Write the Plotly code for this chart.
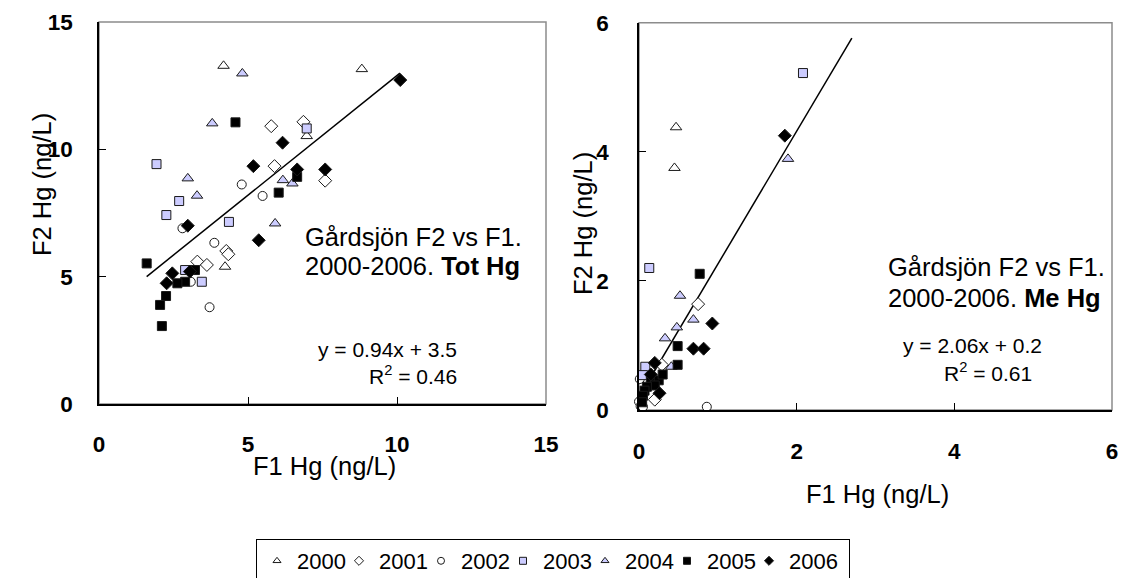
import plotly.graph_objects as go

W, H = 1122, 578

YEARS = ["2000", "2001", "2002", "2003", "2004", "2005", "2006"]
SYMBOLS = ["triangle-up", "diamond", "circle", "square", "triangle-up", "square", "diamond"]
FILLS = ["white", "white", "white", "#CCCCFF", "#CCCCFF", "black", "black"]
SIZES = [10, 10, 9, 9, 10, 9, 10]

# ---- Tot Hg (left panel), F1 (x) vs F2 (y) ----
TOT_2000_X = [4.18, 8.82, 6.97, 4.23]
TOT_2000_Y = [13.28, 13.15, 10.52, 5.39]
TOT_2001_X = [5.78, 6.86, 5.89, 7.59, 4.27, 4.34, 3.30, 3.62]
TOT_2001_Y = [10.91, 11.08, 9.34, 8.77, 6.01, 5.88, 5.59, 5.46]
TOT_2002_X = [4.79, 5.49, 2.80, 3.87, 3.08, 3.71]
TOT_2002_Y = [8.62, 8.17, 6.90, 6.33, 4.80, 3.80]
TOT_2003_X = [6.97, 1.93, 2.69, 2.26, 4.36, 2.89, 3.45]
TOT_2003_Y = [10.82, 9.42, 7.97, 7.42, 7.15, 5.26, 4.80]
TOT_2004_X = [4.81, 3.80, 2.98, 6.17, 6.49, 3.29, 5.91]
TOT_2004_Y = [12.98, 11.02, 8.86, 8.79, 8.66, 8.18, 7.09]
TOT_2005_X = [4.58, 6.65, 6.03, 1.60, 3.22, 2.89, 2.63, 2.25, 2.05, 2.11]
TOT_2005_Y = [11.06, 8.92, 8.30, 5.52, 5.26, 4.80, 4.74, 4.24, 3.89, 3.06]
TOT_2006_X = [10.11, 6.16, 5.18, 6.65, 7.59, 2.98, 5.36, 2.46, 2.27, 3.05]
TOT_2006_Y = [12.72, 10.26, 9.34, 9.21, 9.21, 7.00, 6.43, 5.13, 4.74, 5.20]

# ---- Me Hg (right panel) ----
ME_2000_X = [0.47, 0.45]
ME_2000_Y = [4.38, 3.75]
ME_2001_X = [0.75, 0.29, 0.20, 0.12]
ME_2001_Y = [1.64, 0.70, 0.16, 0.45]
ME_2002_X = [0.01, 0.00, 0.02, 0.05, 0.86]
ME_2002_Y = [0.48, 0.13, 0.06, 0.05, 0.05]
ME_2003_X = [2.08, 0.13, 0.08, 0.05]
ME_2003_Y = [5.22, 2.20, 0.67, 0.54]
ME_2004_X = [1.89, 0.52, 0.69, 0.48, 0.33, 0.41]
ME_2004_Y = [3.89, 1.77, 1.40, 1.28, 1.11, 0.67]
ME_2005_X = [0.77, 0.49, 0.49, 0.15, 0.25, 0.30, 0.20, 0.10, 0.07, 0.05, 0.04]
ME_2005_Y = [2.11, 0.99, 0.70, 0.46, 0.46, 0.55, 0.38, 0.36, 0.30, 0.22, 0.12]
ME_2006_X = [1.85, 0.93, 0.69, 0.82, 0.20, 0.26, 0.15]
ME_2006_Y = [4.25, 1.34, 0.95, 0.95, 0.73, 0.26, 0.55]

TOT_FIT_SLOPE, TOT_FIT_INTERCEPT = 0.94, 3.5
TOT_FIT_XRANGE = [1.6, 10.1]
ME_FIT_SLOPE, ME_FIT_INTERCEPT = 2.06, 0.2
ME_FIT_XRANGE = [0.0, 2.7]

TOT_X = [TOT_2000_X, TOT_2001_X, TOT_2002_X, TOT_2003_X, TOT_2004_X, TOT_2005_X, TOT_2006_X]
TOT_Y = [TOT_2000_Y, TOT_2001_Y, TOT_2002_Y, TOT_2003_Y, TOT_2004_Y, TOT_2005_Y, TOT_2006_Y]
ME_X = [ME_2000_X, ME_2001_X, ME_2002_X, ME_2003_X, ME_2004_X, ME_2005_X, ME_2006_X]
ME_Y = [ME_2000_Y, ME_2001_Y, ME_2002_Y, ME_2003_Y, ME_2004_Y, ME_2005_Y, ME_2006_Y]

LINE_COL = "#1a1a1a"
FONT = "Liberation Sans, Arial, sans-serif"

fig = go.Figure()

# trend lines
fig.add_trace(go.Scatter(
    x=TOT_FIT_XRANGE, y=[TOT_FIT_SLOPE * v + TOT_FIT_INTERCEPT for v in TOT_FIT_XRANGE],
    mode="lines", line=dict(color="black", width=1.5), xaxis="x", yaxis="y",
    showlegend=False, hoverinfo="skip"))
fig.add_trace(go.Scatter(
    x=ME_FIT_XRANGE, y=[ME_FIT_SLOPE * v + ME_FIT_INTERCEPT for v in ME_FIT_XRANGE],
    mode="lines", line=dict(color="black", width=1.5), xaxis="x2", yaxis="y2",
    showlegend=False, hoverinfo="skip"))

for i, yr in enumerate(YEARS):
    mk = dict(symbol=SYMBOLS[i], color=FILLS[i], size=SIZES[i], line=dict(color=LINE_COL, width=1))
    fig.add_trace(go.Scatter(x=TOT_X[i], y=TOT_Y[i], mode="markers", marker=mk,
                             xaxis="x", yaxis="y", showlegend=False, cliponaxis=False, name=yr))
    fig.add_trace(go.Scatter(x=ME_X[i], y=ME_Y[i], mode="markers", marker=mk,
                             xaxis="x2", yaxis="y2", showlegend=False, cliponaxis=False, name=yr))

# legend-only entries (smaller symbols as in the reference legend)
for i, yr in enumerate(YEARS):
    fig.add_trace(go.Scatter(x=[None], y=[None], mode="markers", name=yr, xaxis="x", yaxis="y",
                             legendwidth=(55 if i == len(YEARS) - 1 else None),
                             marker=dict(symbol=SYMBOLS[i], color=FILLS[i], size=7,
                                         line=dict(color=LINE_COL, width=1))))


def px_x(p):
    return p / W


def px_y(p):
    return 1 - p / H


axis_common = dict(showline=True, linecolor="black", linewidth=1.5, ticks="inside", ticklen=7,
                   tickcolor="black", tickwidth=1, showgrid=False, zeroline=False,
                   automargin=False,
                   tickfont=dict(size=22.5, weight="bold", family=FONT, color="black"))

fig.update_layout(
    width=W, height=H, margin=dict(l=0, r=0, t=0, b=0, autoexpand=False),
    plot_bgcolor="white", paper_bgcolor="white",
    font=dict(family=FONT, color="black"),
    xaxis=dict(domain=[px_x(99), px_x(546)], range=[0, 15], tickvals=[0, 5, 10, 15],
               anchor="y", ticklabelstandoff=19, **axis_common),
    yaxis=dict(domain=[px_y(404), px_y(22)], range=[0, 15], tickvals=[0, 5, 10, 15],
               anchor="x", ticklabelstandoff=20, **axis_common),
    xaxis2=dict(domain=[px_x(639), px_x(1112)], range=[0, 6], tickvals=[0, 2, 4, 6],
                anchor="y2", ticklabelstandoff=20, **axis_common),
    yaxis2=dict(domain=[px_y(410), px_y(22.7)], range=[0, 6], tickvals=[0, 2, 4, 6],
                anchor="x2", ticklabelstandoff=24, **axis_common),
    legend=dict(orientation="h", x=px_x(256), xanchor="left", y=px_y(539), yanchor="top",
                bordercolor="black", borderwidth=1, bgcolor="white",
                font=dict(size=22, family=FONT, color="black"),
                entrywidth=37, entrywidthmode="pixels", itemwidth=30),
    shapes=[
        dict(type="rect", xref="x domain", yref="y domain", x0=0, x1=1, y0=0, y1=1,
             line=dict(color="#8c8c8c", width=1.5), layer="below"),
        dict(type="rect", xref="x2 domain", yref="y2 domain", x0=0, x1=1, y0=0, y1=1,
             line=dict(color="#8c8c8c", width=1.5), layer="below"),
    ],
)

ann = []


def add_text(text, x, y, size, xanchor="center", angle=0):
    ann.append(dict(text=text, x=px_x(x), y=px_y(y), xref="paper", yref="paper",
                    xanchor=xanchor, yanchor="middle", showarrow=False, textangle=angle,
                    font=dict(size=size, family=FONT, color="black")))


# axis titles
add_text("F1 Hg (ng/L)", 324, 466, 25.5)
add_text("F2 Hg (ng/L)", 42, 185, 25.5, angle=-90)
add_text("F1 Hg (ng/L)", 878, 494, 25.5)
add_text("F2 Hg (ng/L)", 583, 224, 25.5, angle=-90)

# left panel text
add_text("Gårdsjön F2 vs F1.", 303, 237, 25.5, xanchor="left")
add_text("2000-2006. <b>Tot Hg</b>", 303, 266, 25.5, xanchor="left")
add_text("y = 0.94x + 3.5", 459, 349, 21, xanchor="right")
add_text("R<sup>2</sup> = 0.46", 459, 375, 21, xanchor="right")

# right panel text
add_text("Gårdsjön F2 vs F1.", 886, 267, 25.5, xanchor="left")
add_text("2000-2006. <b>Me Hg</b>", 886, 298, 25.5, xanchor="left")
add_text("y = 2.06x + 0.2", 1044, 345, 21, xanchor="right")
add_text("R<sup>2</sup> = 0.61", 1034, 372, 21, xanchor="right")

fig.update_layout(annotations=ann)

fig.write_html(
    "out.html",
    config={"displayModeBar": False},
    post_script="document.body.style.margin='0px';document.body.style.overflow='hidden';",
)
